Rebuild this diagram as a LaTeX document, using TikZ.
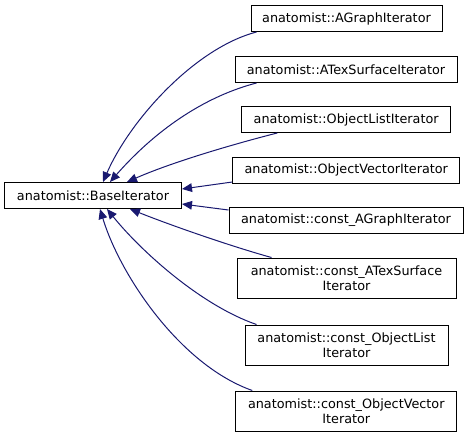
\documentclass[tikz,border=0pt]{standalone}
\usepackage{fontspec}
\setmainfont{DejaVu Sans}
\usepackage{tikz}
\usetikzlibrary{arrows.meta, calc}
\definecolor{edgeblue}{HTML}{191970}

\begin{document}
\begin{tikzpicture}[x=0.75pt, y=-0.75pt, >={Triangle[length=7.5pt,width=6.5pt]},
    cls/.style={draw=black, line width=0.75pt, fill=white, inner sep=0pt,
        minimum height=19.5pt, align=center,
        font=\fontsize{9.6}{11.25}\selectfont},
    cls2/.style={cls, minimum height=30pt},
    inh/.style={<-, draw=edgeblue, fill=none, line width=0.75pt}]
    \useasboundingbox (0,0) rectangle (469,437);

    \node[cls, minimum width=132.75pt] (base) at (93,195.5) {anatomist::BaseIterator};
    \node[cls, minimum width=143.25pt] (agraph) at (346.5,18.5) {anatomist::AGraphIterator};
    \node[cls, minimum width=166.5pt] (atex) at (346,69.5) {anatomist::ATexSurfaceIterator};
    \node[cls, minimum width=156.75pt] (olist) at (346.2,119.5) {anatomist::ObjectListIterator};
    \node[cls, minimum width=170.25pt] (ovec) at (346.3,170) {anatomist::ObjectVectorIterator};
    \node[cls, minimum width=175.5pt] (cagraph) at (346,220.5) {anatomist::const\_AGraphIterator};
    \node[cls2, minimum width=164.25pt] (catex) at (346.5,278) {anatomist::const\_ATexSurface\\Iterator};
    \node[cls2, minimum width=152.25pt] (colist) at (346.5,345) {anatomist::const\_ObjectList\\Iterator};
    \node[cls2, minimum width=165.75pt] (covec) at (346.3,411) {anatomist::const\_ObjectVector\\Iterator};

    % inheritance edges
    \draw[inh] ($(base.north)+(10,0)$) .. controls (130,120) and (195,48) .. ($(agraph.south west)+(6,0)$);
    \draw[inh] ($(base.north)+(17,0)$) .. controls (160,125) and (210,95) .. ($(atex.south west)+(22,0)$);
    \draw[inh] ($(base.north)+(34,0)$) .. controls (170,163) and (230,145) .. ($(olist.south west)+(36,0)$);
    \draw[inh] ($(base.east)+(0,-6.5)$) -- ($(ovec.west)+(0,12)$);
    \draw[inh] ($(base.east)+(0,8.5)$) -- ($(cagraph.west)+(0,-10.5)$);
    \draw[inh] ($(base.south)+(37,0)$) .. controls (170,225) and (230,246) .. ($(catex.north west)+(35,0)$);
    \draw[inh] ($(base.south)+(14,0)$) .. controls (140,250) and (200,305) .. ($(colist.north west)+(12,0)$);
    \draw[inh] ($(base.south)+(7,0)$) .. controls (120,275) and (180,365) .. ($(covec.north west)+(17,0)$);
\end{tikzpicture}
\end{document}
